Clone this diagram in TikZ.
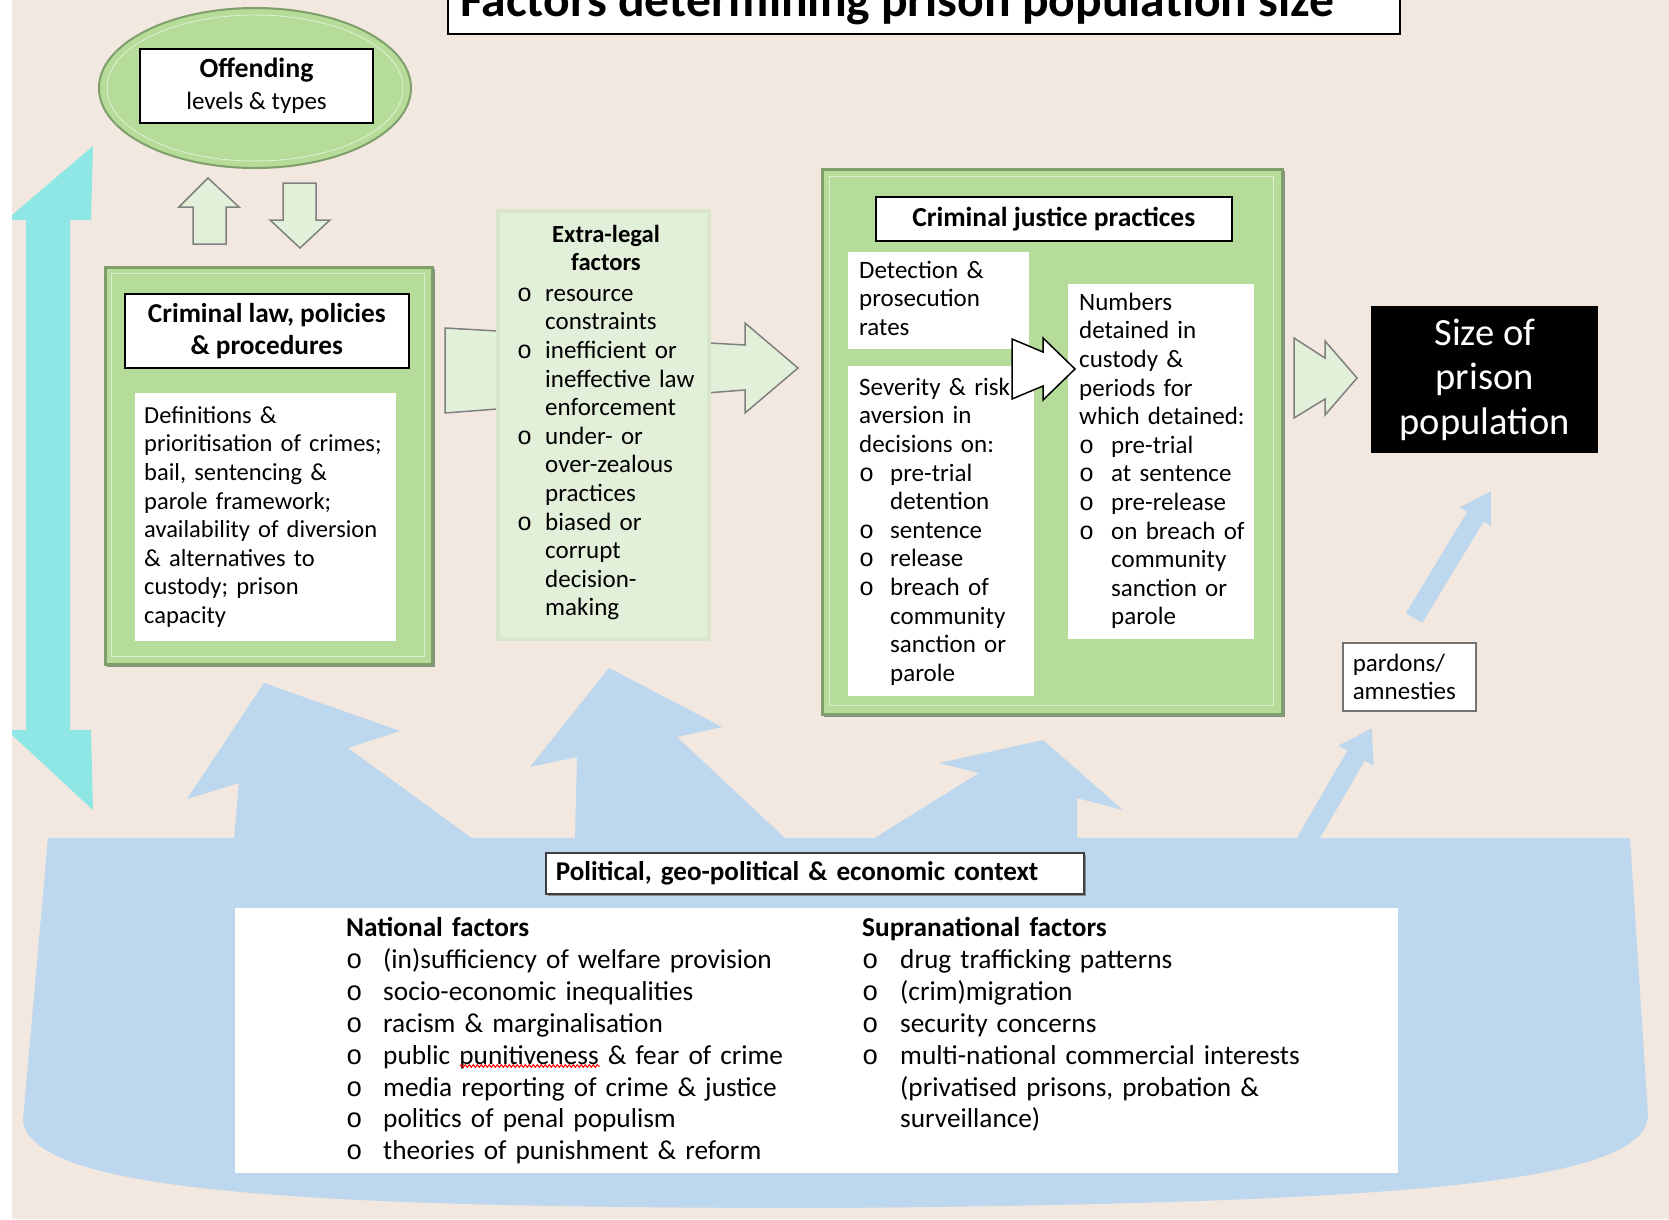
\documentclass[tikz,border=0pt]{standalone}
\usepackage{fontspec}
\setmainfont{Carlito}
\newfontfamily\bulletfont{Liberation Mono}
\usetikzlibrary{arrows.meta,shapes.geometric,decorations.pathmorphing}
\definecolor{bg}{HTML}{F2E8DF}
\definecolor{grn}{HTML}{B5DC99}
\definecolor{grnline}{HTML}{7E9E6B}
\definecolor{pale}{HTML}{E2EFD9}
\definecolor{paleedge}{HTML}{D8E6CD}
\definecolor{blu}{HTML}{BDD7EE}
\definecolor{cyn}{HTML}{8EE7E4}
\newcommand{\fs}[2]{\fontsize{#1}{#2}\selectfont}
\newcommand{\bul}[1]{\makebox[#1][l]{\bulletfont o}}
\begin{document}
\begin{tikzpicture}[x=1pt,y=-1pt,
  box/.style={draw=black, line width=1.6, fill=white, inner sep=0},
  plain/.style={fill=white, draw=none, inner sep=0},
  txt/.style={inner sep=0, anchor=north west, align=left, text width=#1},
  txt/.default=260,
  body/.style={font=\fs{25}{28.6}},
  clbody/.style={font=\fs{24.5}{28.6}},
  bottomtext/.style={font=\fs{27.3}{31.9}},
  greenbox/.style={fill=grn, draw=grnline, line width=2.5, inner sep=0},
  shadowbox/.style={fill=black!45, draw=none},
  pale arrow/.style={fill=pale, draw=black!50, line width=1.5, line join=miter},
  blue block/.style={fill=blu, draw=none},
  thin blue/.style={draw=blu, line width=#1, -{Triangle[length=32pt,width=38pt]}},
]
\useasboundingbox (0,0) rectangle (1669,1219);
\clip (0,0) rectangle (1669,1219);
\fill[bg] (0,0) rectangle (1669,1219);

% ---------- context base (blue tub) and blue arrows ----------
\fill[blue block] (48,838) -- (1630,838) -- (1648,1115)
  .. controls (1645,1178) and (1450,1203) .. (830,1208)
  .. controls (300,1208) and (30,1192) .. (23,1120) -- cycle;
\fill[blue block] (234,839) -- (239,783) -- (187,799) -- (264,683) -- (400,731) -- (348,748) -- (473,839) -- cycle;
\fill[blue block] (575,839) -- (577,757) -- (530,767) -- (609,668) -- (722,727) -- (677,737) -- (786,839) -- cycle;
\fill[blue block] (873,839) -- (979,773) -- (939,763) -- (1043,740) -- (1123,810) -- (1077,798) -- (1077,839) -- cycle;

% ---------- cyan double arrow ----------
\fill[cyn] (93,146) -- (91,220) -- (70,220) -- (70,730) -- (91,730) -- (93,810) -- (12,735)
  -- (12,730) -- (26,730) -- (26,220) -- (12,220) -- (12,215) -- cycle;
\fill[white] (0,0) rectangle (12,1219);

% ---------- title ----------
\node[box, minimum width=952, minimum height=80, anchor=south west] (titlebox) at (447,35) {};
\node[inner sep=0, anchor=base west, font=\bfseries\fs{49.6}{55}] (title) at (460,16) {Factors determining prison population size};

% ---------- offending ----------
\node[ellipse, fill=grn, draw=grnline, line width=2, minimum width=312, minimum height=160, inner sep=0] (offell) at (255,88) {};
\draw[white!60!grn, line width=0.8] (255,88) ellipse [x radius=148, y radius=73];
\node[box, minimum width=233, minimum height=74, align=center, font=\fs{25}{32}] (off) at (256.5,86)
  {{\bfseries\fontsize{27.8}{32}\selectfont Offending}\\levels \& types};

\draw[pale arrow] (208,178) -- (239,207) -- (226,207) -- (226,244) -- (193,244) -- (193,207) -- (179,207) -- cycle;
\draw[pale arrow] (283,183) -- (316,183) -- (316,220) -- (330,220) -- (300,248) -- (270,220) -- (283,220) -- cycle;

% ---------- criminal law box ----------
\fill[shadowbox] (107,269) rectangle (435,667);
\node[greenbox, minimum width=327, minimum height=397, anchor=north west] (cl) at (104,266) {};
\draw[white!55!grn, line width=0.8] (111,273) rectangle (424,656);
\node[box, minimum width=284, minimum height=74, anchor=north west, align=center, font=\bfseries\fs{27.3}{32}] (cltitle) at (124,293)
  {Criminal law, policies\\\& procedures};
\node[plain, minimum width=261, minimum height=248, anchor=north west] (clin) at (135,393) {};
\node[txt, clbody] (cltext) at (144,403) {\strut Definitions \&\\
prioritisation of crimes;\\
bail, sentencing \&\\
parole framework;\\
availability of diversion\\
\& alternatives to\\
custody; prison\\
capacity};

% ---------- notched arrow towards criminal justice practices ----------
\draw[pale arrow] (445,328) -- (745,345) -- (745,323) -- (798,368) -- (745,413) -- (745,390) -- (445,413) -- cycle;

% ---------- extra-legal factors ----------
\fill[paleedge] (496,209) rectangle (711,641);
\node[fill=pale, draw=none, inner sep=0, minimum width=207, minimum height=424, anchor=north west] (extra) at (500,213) {};
\node[inner sep=0, anchor=north, align=center, font=\bfseries\fs{24.6}{28.6}] (exhead) at (606,222) {\strut Extra-legal\\factors};
\node[txt=190, body] (extext) at (517,281) {\strut\bul{28pt}resource\\
\hspace*{28pt}constraints\\
\bul{28pt}inefficient or\\
\hspace*{28pt}ineffective law\\
\hspace*{28pt}enforcement\\
\bul{28pt}under- or\\
\hspace*{28pt}over-zealous\\
\hspace*{28pt}practices\\
\bul{28pt}biased or\\
\hspace*{28pt}corrupt\\
\hspace*{28pt}decision-\\
\hspace*{28pt}making};

% ---------- criminal justice practices ----------
\fill[shadowbox] (824,171) rectangle (1285,717);
\node[greenbox, minimum width=460, minimum height=545, anchor=north west] (cj) at (821,168) {};
\draw[white!55!grn, line width=0.8] (829,176) rectangle (1273,705);
\node[box, minimum width=356, minimum height=44, anchor=north west, font=\bfseries\fs{27.5}{32}] (cjtitle) at (875,196) {Criminal justice practices};
\node[plain, minimum width=181, minimum height=97, anchor=north west] (det) at (848,252) {};
\node[txt=170, body] (dettext) at (859,258) {\strut Detection \&\\prosecution\\rates};
\node[plain, minimum width=186, minimum height=330, anchor=north west] (sev) at (848,366) {};
\node[txt=175, body] (sevtext) at (859,375) {\strut Severity \& risk\\
aversion in\\
decisions on:\\
\bul{31pt}pre-trial\\
\hspace*{31pt}detention\\
\bul{31pt}sentence\\
\bul{31pt}release\\
\bul{31pt}breach of\\
\hspace*{31pt}community\\
\hspace*{31pt}sanction or\\
\hspace*{31pt}parole};
\node[plain, minimum width=186, minimum height=355, anchor=north west] (num) at (1068,284) {};
\node[txt=175, body] (numtext) at (1079,290) {\strut Numbers\\
detained in\\
custody \&\\
periods for\\
which detained:\\
\bul{32pt}pre-trial\\
\bul{32pt}at sentence\\
\bul{32pt}pre-release\\
\bul{32pt}on breach of\\
\hspace*{32pt}community\\
\hspace*{32pt}sanction or\\
\hspace*{32pt}parole};
\draw[fill=white, draw=black, line width=1.5, line join=miter] (1012,339) -- (1043,352) -- (1043,338) -- (1075,369) -- (1043,400) -- (1043,386) -- (1012,399) -- cycle;

% ---------- size of prison population ----------
\draw[pale arrow] (1294,338) -- (1325,358) -- (1325,341) -- (1357,378) -- (1325,415) -- (1325,399) -- (1294,418) -- cycle;
\node[fill=black, inner sep=0, minimum width=227, minimum height=147, anchor=north west, text=white, align=center, font=\fs{38.5}{44.5}] (size) at (1371,306)
  {Size of\\prison\\population};

% ---------- pardons ----------
\node[draw=black!55, line width=1.5, fill=white, anchor=north west, minimum height=68, text width=113, inner xsep=10, inner ysep=0, align=left, font=\fs{25}{28}] (pardons) at (1342,642)
  {pardons/\\amnesties};
\coordinate (p4base) at (1306,842);
\coordinate (p4tip) at (1372,728);
\coordinate (p5base) at (1414,618);
\coordinate (p5tip) at (1491,491);
\draw[thin blue=20] (p4base) -- (p4tip);
\draw[draw=blu, line width=19, -{Triangle[length=30pt,width=34pt]}] (p5base) -- (p5tip);

% ---------- political context ----------
\fill[shadowbox] (548,855) rectangle (1086,896);
\node[box, draw=black!75, minimum width=538, minimum height=41, text width=518, inner xsep=10, align=left, anchor=north west, font=\bfseries\fs{27.1}{30}] (pol) at (545,852)
  {Political, geo-political \& economic context};
\node[plain, minimum width=1163, minimum height=265, anchor=north west] (factors) at (235,908) {};
\node[txt=500, bottomtext] (national) at (346,914) {\strut{\bfseries National factors}\\
\bul{37pt}(in)sufficiency of welfare provision\\
\bul{37pt}socio-economic inequalities\\
\bul{37pt}racism \& marginalisation\\
\bul{37pt}public punitiveness \& fear of crime\\
\bul{37pt}media reporting of crime \& justice\\
\bul{37pt}politics of penal populism\\
\bul{37pt}theories of punishment \& reform};
\node[txt=520, bottomtext] (supra) at (862,914) {\strut{\bfseries Supranational factors}\\
\bul{38pt}drug trafficking patterns\\
\bul{38pt}(crim)migration\\
\bul{38pt}security concerns\\
\bul{38pt}multi-national commercial interests\\
\hspace*{38pt}(privatised prisons, probation \&\\
\hspace*{38pt}surveillance)};
\draw[red, line width=1, decorate, decoration={snake, amplitude=1.3pt, segment length=4pt}] (460,1066) -- (600,1066);
\end{tikzpicture}
\end{document}
